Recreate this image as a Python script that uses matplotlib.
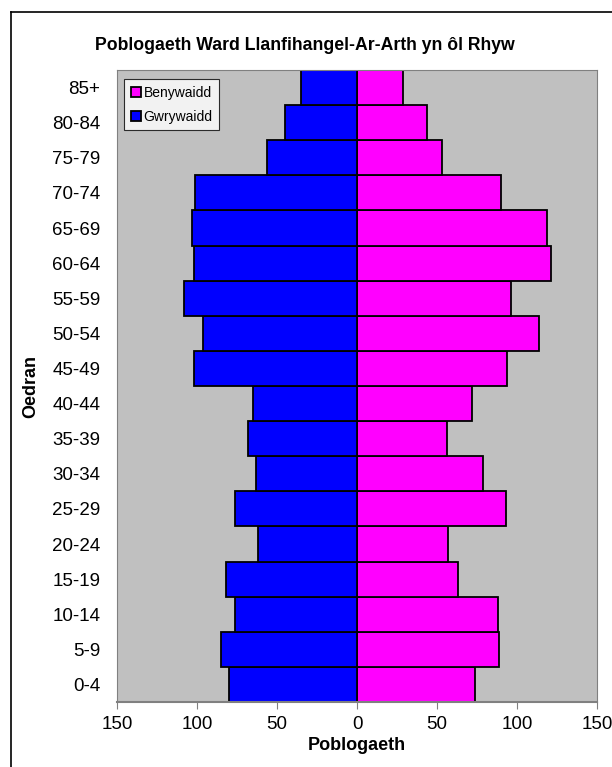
import matplotlib
matplotlib.use('Agg')
import matplotlib.pyplot as plt
import numpy as np

plt.rcParams['font.family'] = ['Liberation Sans', 'DejaVu Sans']

# age groups, bottom to top
ages = ['0-4', '5-9', '10-14', '15-19', '20-24', '25-29', '30-34', '35-39',
        '40-44', '45-49', '50-54', '55-59', '60-64', '65-69', '70-74',
        '75-79', '80-84', '85+']
# Gwrywaidd (male) and Benywaidd (female) counts
male = [80, 85, 76, 82, 62, 76, 63, 68, 65, 102, 96, 108, 102, 103, 101, 56, 45, 35]
female = [74, 89, 88, 63, 57, 93, 79, 56, 72, 94, 114, 96, 121, 119, 90, 53, 44, 29]

fig = plt.figure(figsize=(6.12, 7.67), dpi=100)
ax = fig.add_axes([0.1912, 0.0847, 0.7843, 0.824])

y = np.arange(len(ages))
ax.barh(y, female, height=1.0, color='#FF00FF', edgecolor='black', linewidth=1.3,
        label='Benywaidd')
ax.barh(y, [-m for m in male], height=1.0, color='#0000FF', edgecolor='black',
        linewidth=1.3, label='Gwrywaidd')

ax.set_facecolor('#C0C0C0')
ax.set_xlim(-150, 150)
ax.set_ylim(-0.5, len(ages) - 0.5)
ax.set_xticks([-150, -100, -50, 0, 50, 100, 150])
ax.set_xticklabels(['150', '100', '50', '0', '50', '100', '150'], fontsize=13.5)
ax.set_yticks(y)
ax.set_yticklabels(ages, fontsize=13.5)
ax.tick_params(axis='y', length=0, pad=12)
ax.tick_params(axis='x', length=5, color='#808080', pad=5)
for s in ['top', 'right', 'left', 'bottom']:
    ax.spines[s].set_color('#808080')
ax.spines['bottom'].set_linewidth(1.5)

ax.set_xlabel('Poblogaeth', fontsize=13, fontweight='bold', labelpad=3)
ax.set_ylabel('Oedran', fontsize=13, fontweight='bold', labelpad=9)

leg = ax.legend(loc='upper left', bbox_to_anchor=(0.0146, 0.986), fontsize=10,
                frameon=True, fancybox=False, handlelength=0.7, handleheight=0.7,
                handletextpad=0.2, borderpad=0.5, labelspacing=0.7,
                borderaxespad=0)
leg.get_frame().set_edgecolor('black')
leg.get_frame().set_linewidth(0.8)

fig.text(0.498, 0.941, 'Poblogaeth Ward Llanfihangel-Ar-Arth yn ôl Rhyw',
         ha='center', va='center', fontsize=12.7, fontweight='bold')

# outer chart border
fig.add_artist(plt.Line2D([11 / 612, 11 / 612], [0, 1 - 12 / 767], color='black',
                          lw=1.2, transform=fig.transFigure))
fig.add_artist(plt.Line2D([11 / 612, 1], [1 - 12 / 767, 1 - 12 / 767], color='black',
                          lw=1.2, transform=fig.transFigure))

fig.savefig('out.png', dpi=100)
